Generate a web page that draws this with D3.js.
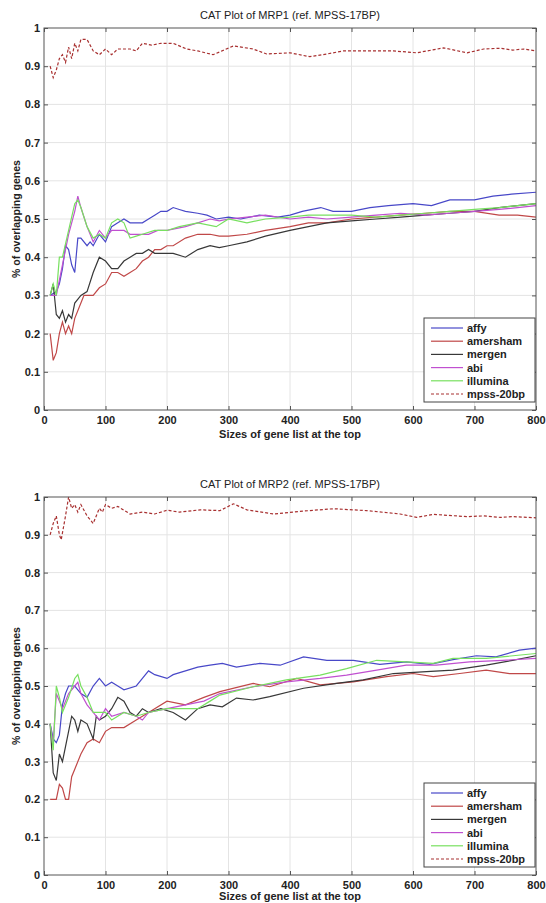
<!DOCTYPE html>
<html>
<head>
<meta charset="utf-8">
<script src="https://cdn.jsdelivr.net/npm/d3@7"></script>
<style>
  body { margin: 0; background: #fff; }
  text { font-family: "Liberation Sans", Arial, sans-serif; fill: #222; }
</style>
</head>
<body>
<script>
// series names and tick values
var seriesNames = ["affy", "amersham", "mergen", "abi", "illumina", "mpss-20bp"];
var xTicks = [0, 100, 200, 300, 400, 500, 600, 700, 800];
var yTicks = [0, 0.1, 0.2, 0.3, 0.4, 0.5, 0.6, 0.7, 0.8, 0.9, 1];

// MRP1 (top) - [list size, overlap]
var mrp1Affy = [[10,0.30],[20,0.31],[25,0.33],[30,0.37],[35,0.43],[40,0.42],[45,0.38],[50,0.36],[55,0.45],[60,0.45],[70,0.43],[75,0.44],[80,0.43],[90,0.46],[100,0.44],[110,0.48],[120,0.49],[130,0.50],[140,0.49],[150,0.49],[160,0.49],[170,0.50],[180,0.51],[190,0.52],[200,0.52],[210,0.53],[220,0.525],[230,0.52],[250,0.515],[265,0.51],[280,0.50],[300,0.505],[320,0.50],[350,0.51],[380,0.505],[400,0.51],[420,0.52],[450,0.53],[470,0.52],[500,0.52],[530,0.53],[560,0.535],[600,0.54],[630,0.535],[660,0.55],[700,0.55],[730,0.56],[760,0.565],[800,0.57]];
var mrp1Amersham = [[10,0.20],[15,0.13],[20,0.15],[25,0.20],[30,0.23],[35,0.20],[40,0.22],[45,0.20],[50,0.24],[60,0.28],[65,0.30],[70,0.30],[80,0.30],[90,0.32],[100,0.33],[110,0.36],[120,0.36],[130,0.35],[140,0.36],[150,0.37],[160,0.39],[170,0.40],[180,0.42],[190,0.42],[200,0.43],[210,0.43],[230,0.45],[250,0.46],[270,0.46],[285,0.455],[300,0.455],[330,0.46],[360,0.47],[400,0.48],[430,0.49],[460,0.49],[500,0.50],[540,0.505],[580,0.51],[620,0.515],[660,0.52],[700,0.52],[740,0.51],[770,0.51],[800,0.505]];
var mrp1Mergen = [[10,0.30],[15,0.33],[20,0.25],[25,0.24],[30,0.26],[35,0.23],[40,0.25],[45,0.24],[50,0.28],[60,0.30],[70,0.31],[80,0.36],[90,0.40],[100,0.39],[110,0.37],[120,0.37],[130,0.39],[140,0.40],[150,0.41],[160,0.41],[170,0.42],[180,0.41],[190,0.41],[210,0.41],[230,0.40],[250,0.42],[270,0.43],[285,0.425],[300,0.43],[330,0.44],[360,0.455],[400,0.47],[430,0.48],[460,0.49],[500,0.495],[540,0.50],[580,0.505],[620,0.51],[660,0.515],[700,0.52],[740,0.53],[770,0.535],[800,0.54]];
var mrp1Abi = [[10,0.30],[20,0.30],[30,0.38],[40,0.46],[50,0.52],[55,0.56],[60,0.53],[70,0.48],[80,0.44],[90,0.47],[100,0.45],[110,0.47],[120,0.47],[130,0.47],[140,0.46],[150,0.46],[170,0.46],[185,0.47],[200,0.47],[230,0.48],[250,0.49],[270,0.50],[285,0.495],[300,0.50],[330,0.505],[360,0.51],[400,0.50],[430,0.505],[460,0.50],[500,0.505],[540,0.51],[580,0.515],[620,0.51],[660,0.515],[700,0.52],[740,0.525],[770,0.53],[800,0.535]];
var mrp1Illumina = [[10,0.30],[15,0.33],[20,0.30],[25,0.40],[30,0.40],[40,0.47],[50,0.54],[55,0.55],[60,0.53],[70,0.48],[80,0.45],[90,0.46],[100,0.45],[110,0.49],[120,0.50],[130,0.49],[140,0.45],[150,0.455],[160,0.46],[180,0.47],[200,0.47],[220,0.48],[250,0.49],[280,0.48],[300,0.50],[330,0.49],[360,0.50],[400,0.505],[430,0.51],[460,0.51],[500,0.51],[540,0.505],[580,0.51],[620,0.515],[660,0.52],[700,0.525],[740,0.53],[770,0.535],[800,0.54]];
var mrp1Mpss = [[10,0.90],[15,0.87],[20,0.89],[25,0.92],[30,0.93],[35,0.91],[40,0.95],[45,0.92],[50,0.96],[55,0.94],[60,0.97],[70,0.97],[80,0.94],[90,0.93],[100,0.945],[110,0.93],[120,0.945],[140,0.945],[150,0.94],[160,0.96],[175,0.955],[190,0.96],[210,0.96],[232,0.945],[250,0.94],[275,0.93],[308,0.953],[340,0.945],[362,0.932],[400,0.935],[432,0.925],[460,0.932],[487,0.94],[524,0.94],[568,0.94],[606,0.935],[650,0.948],[688,0.935],[715,0.945],[742,0.947],[762,0.942],[780,0.945],[800,0.94]];

// MRP2 (bottom)
var mrp2Affy = [[10,0.40],[15,0.36],[20,0.35],[25,0.37],[30,0.45],[35,0.48],[40,0.50],[50,0.50],[60,0.48],[70,0.47],[80,0.50],[90,0.52],[100,0.50],[110,0.51],[120,0.50],[130,0.49],[150,0.50],[160,0.52],[170,0.54],[180,0.53],[200,0.52],[210,0.53],[230,0.54],[250,0.55],[270,0.555],[290,0.56],[313,0.55],[351,0.56],[384,0.555],[422,0.577],[460,0.568],[503,0.568],[546,0.557],[589,0.564],[627,0.557],[665,0.57],[703,0.58],[735,0.577],[773,0.595],[800,0.60]];
var mrp2Amersham = [[10,0.20],[20,0.20],[25,0.24],[30,0.23],[35,0.20],[40,0.20],[45,0.26],[50,0.28],[60,0.32],[70,0.35],[80,0.36],[90,0.35],[100,0.38],[110,0.39],[130,0.39],[150,0.41],[170,0.43],[200,0.46],[230,0.45],[260,0.47],[286,0.485],[340,0.507],[367,0.498],[411,0.52],[449,0.503],[503,0.511],[557,0.525],[600,0.533],[633,0.525],[676,0.533],[719,0.542],[757,0.533],[800,0.533]];
var mrp2Mergen = [[10,0.40],[15,0.27],[20,0.25],[25,0.32],[30,0.30],[40,0.38],[45,0.42],[50,0.41],[55,0.38],[60,0.41],[70,0.40],[80,0.36],[85,0.42],[90,0.41],[100,0.42],[110,0.44],[120,0.47],[130,0.46],[140,0.43],[150,0.42],[160,0.44],[170,0.43],[190,0.44],[210,0.43],[230,0.41],[250,0.44],[270,0.45],[290,0.445],[313,0.468],[340,0.463],[367,0.472],[422,0.494],[476,0.507],[519,0.516],[568,0.533],[622,0.538],[665,0.542],[719,0.555],[762,0.568],[800,0.58]];
var mrp2Abi = [[10,0.40],[15,0.35],[20,0.48],[30,0.44],[40,0.48],[50,0.50],[55,0.51],[60,0.48],[70,0.45],[80,0.43],[90,0.41],[100,0.44],[110,0.42],[130,0.43],[150,0.42],[160,0.41],[170,0.43],[200,0.44],[230,0.45],[260,0.46],[286,0.48],[340,0.498],[394,0.511],[449,0.52],[492,0.529],[541,0.542],[589,0.555],[638,0.555],[692,0.564],[746,0.568],[800,0.573]];
var mrp2Illumina = [[10,0.40],[15,0.33],[20,0.50],[25,0.47],[30,0.43],[40,0.47],[50,0.52],[55,0.53],[60,0.50],[70,0.47],[80,0.43],[90,0.43],[100,0.43],[110,0.41],[130,0.43],[150,0.42],[170,0.43],[200,0.44],[250,0.44],[270,0.46],[286,0.476],[340,0.498],[394,0.516],[449,0.529],[492,0.546],[541,0.568],[589,0.564],[633,0.56],[665,0.573],[719,0.573],[800,0.586]];
var mrp2Mpss = [[10,0.90],[15,0.93],[20,0.95],[25,0.90],[28,0.887],[35,0.95],[40,1.00],[45,0.97],[50,0.98],[55,0.96],[60,0.98],[70,0.95],[80,0.93],[90,0.97],[95,0.96],[100,0.98],[110,0.97],[120,0.975],[130,0.965],[140,0.955],[160,0.96],[180,0.955],[200,0.965],[220,0.96],[254,0.966],[286,0.964],[308,0.982],[330,0.966],[373,0.955],[416,0.962],[471,0.969],[524,0.964],[579,0.955],[606,0.946],[633,0.954],[688,0.948],[715,0.95],[742,0.946],[762,0.948],[800,0.945]];

var lineColors = ["#4848c8", "#c04848", "#383838", "#c050d0", "#78e060", "#a83030"];

var charts = [
  {title: "CAT Plot of MRP1 (ref. MPSS-17BP)", top: 28, bottom: 410, labelGap: 28,
   series: [mrp1Affy, mrp1Amersham, mrp1Mergen, mrp1Abi, mrp1Illumina, mrp1Mpss]},
  {title: "CAT Plot of MRP2 (ref. MPSS-17BP)", top: 497, bottom: 875, labelGap: 25,
   series: [mrp2Affy, mrp2Amersham, mrp2Mergen, mrp2Abi, mrp2Illumina, mrp2Mpss]}
];

var width = 546, height = 903;
var left = 44, right = 536;

var svg = d3.select("body").append("svg")
    .attr("width", width)
    .attr("height", height);

charts.forEach(drawChart);

function drawChart(c) {
    var x = d3.scaleLinear().domain([0, 800]).range([left, right]);
    var y = d3.scaleLinear().domain([0, 1]).range([c.bottom, c.top]);
    var g = svg.append("g");

    // grid
    g.selectAll(".vgrid").data(xTicks.slice(1, -1)).enter().append("line")
        .attr("x1", x).attr("x2", x).attr("y1", c.top).attr("y2", c.bottom)
        .attr("stroke", "#e4e4e4").attr("stroke-width", 1);
    g.selectAll(".hgrid").data(yTicks.slice(1, -1)).enter().append("line")
        .attr("y1", y).attr("y2", y).attr("x1", left).attr("x2", right)
        .attr("stroke", "#e4e4e4").attr("stroke-width", 1);

    // axes, matlab style ticks inside
    var xAxis = d3.axisBottom(x).tickValues(xTicks).tickSize(-4).tickPadding(6).tickFormat(d3.format("d"));
    var yAxis = d3.axisLeft(y).tickValues(yTicks).tickSize(-4).tickPadding(4).tickFormat(function(d){ return d === 0 || d === 1 ? d : d3.format(".1f")(d); });
    var gx = g.append("g").attr("transform", "translate(0," + c.bottom + ")").call(xAxis);
    var gy = g.append("g").attr("transform", "translate(" + left + ",0)").call(yAxis);
    g.append("g").attr("transform", "translate(0," + c.top + ")")
        .call(d3.axisTop(x).tickValues(xTicks).tickSize(-4).tickFormat(""));
    g.append("g").attr("transform", "translate(" + right + ",0)")
        .call(d3.axisRight(y).tickValues(yTicks).tickSize(-4).tickFormat(""));
    g.selectAll(".domain").remove();
    g.selectAll(".tick line").attr("stroke", "#555");
    [gx, gy].forEach(function(a){
        a.selectAll("text").style("font-size", "11px").style("font-weight", "bold")
            .style("font-family", "'Liberation Sans', Arial, sans-serif").attr("fill", "#222");
    });

    var line = d3.line().x(function(d){ return x(d[0]); }).y(function(d){ return y(d[1]); });

    c.series.forEach(function(s, i) {
        g.append("path").datum(s)
            .attr("d", line)
            .attr("fill", "none")
            .attr("stroke", lineColors[i])
            .attr("stroke-width", 1.2)
            .attr("stroke-dasharray", i === 5 ? "3,2" : null);
    });

    // box
    g.append("rect").attr("x", left).attr("y", c.top)
        .attr("width", right - left).attr("height", c.bottom - c.top)
        .attr("fill", "none").attr("stroke", "#555").attr("stroke-width", 1);

    // title and labels
    g.append("text").attr("x", (left + right) / 2).attr("y", c.top - 9)
        .attr("text-anchor", "middle").style("font-size", "11px").text(c.title);
    g.append("text").attr("x", (left + right) / 2).attr("y", c.bottom + c.labelGap)
        .attr("text-anchor", "middle").style("font-size", "11px").style("font-weight", "bold")
        .text("Sizes of gene list at the top");
    g.append("text")
        .attr("transform", "translate(20," + ((c.top + c.bottom) / 2) + ") rotate(-90)")
        .attr("text-anchor", "middle").style("font-size", "10.5px").style("font-weight", "bold")
        .text("% of overlapping genes");

    // legend
    var lw = 111, lh = 84, lx = right - lw - 1, ly = c.bottom - lh - 8;
    var lg = g.append("g").attr("transform", "translate(" + lx + "," + ly + ")");
    lg.append("rect").attr("width", lw).attr("height", lh)
        .attr("fill", "#fff").attr("stroke", "#444").attr("stroke-width", 1);
    seriesNames.forEach(function(n, i) {
        var yy = 10 + i * 13.2;
        lg.append("line").attr("x1", 7).attr("x2", 39).attr("y1", yy).attr("y2", yy)
            .attr("stroke", lineColors[i]).attr("stroke-width", 1.2)
            .attr("stroke-dasharray", i === 5 ? "3,2" : null);
        lg.append("text").attr("x", 43).attr("y", yy + 4)
            .style("font-size", "11px").style("font-weight", "bold").text(n);
    });
}
</script>
</body>
</html>
